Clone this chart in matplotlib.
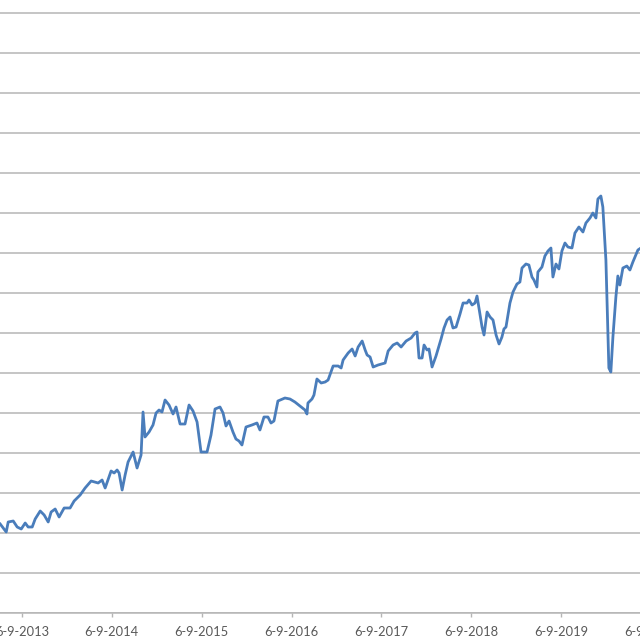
import matplotlib
matplotlib.use("Agg")
import matplotlib.pyplot as plt
import matplotlib.ticker as mticker
import matplotlib.dates as mdates
import pandas as pd

# time as decimal years (no axis labels visible)
years = [
    2013.438, 2013.505, 2013.527, 2013.583, 2013.627, 2013.672, 2013.716, 2013.749,
    2013.794, 2013.827, 2013.883, 2013.927, 2013.972, 2014.005, 2014.050, 2014.094,
    2014.150, 2014.216, 2014.261, 2014.328, 2014.383, 2014.450, 2014.528, 2014.572,
    2014.606, 2014.672, 2014.706, 2014.739, 2014.761, 2014.795, 2014.828, 2014.861,
    2014.917, 2014.961, 2015.006, 2015.028, 2015.050, 2015.095, 2015.139, 2015.173,
    2015.206, 2015.239, 2015.273, 2015.317, 2015.362, 2015.395, 2015.440, 2015.495,
    2015.540, 2015.584, 2015.629, 2015.673, 2015.740, 2015.784, 2015.829, 2015.884,
    2015.918, 2015.951, 2015.985, 2016.029, 2016.062, 2016.096, 2016.129, 2016.174,
    2016.240, 2016.296, 2016.329, 2016.374, 2016.418, 2016.452, 2016.485, 2016.529,
    2016.607, 2016.663, 2016.718, 2016.774, 2016.830, 2016.852, 2016.863, 2016.908,
    2016.930, 2016.963, 2017.008, 2017.052, 2017.085, 2017.141, 2017.197, 2017.230,
    2017.252, 2017.308, 2017.352, 2017.386, 2017.419, 2017.464, 2017.497, 2017.519,
    2017.552, 2017.586, 2017.641, 2017.719, 2017.753, 2017.808, 2017.853, 2017.897,
    2017.953, 2018.009, 2018.053, 2018.075, 2018.097, 2018.131, 2018.153, 2018.186,
    2018.208, 2018.242, 2018.286, 2018.342, 2018.375, 2018.409, 2018.442, 2018.475,
    2018.509, 2018.553, 2018.587, 2018.631, 2018.653, 2018.687, 2018.720, 2018.742,
    2018.765, 2018.798, 2018.820, 2018.854, 2018.887, 2018.920, 2018.954, 2018.987,
    2019.020, 2019.042, 2019.065, 2019.109, 2019.143, 2019.187, 2019.220, 2019.243,
    2019.287, 2019.320, 2019.354, 2019.376, 2019.409, 2019.420, 2019.465, 2019.498,
    2019.532, 2019.565, 2019.587, 2019.621, 2019.654, 2019.687, 2019.721, 2019.754,
    2019.799, 2019.832, 2019.876, 2019.921, 2019.954, 2019.999, 2020.032, 2020.066,
    2020.088, 2020.121, 2020.143, 2020.177, 2020.210, 2020.232, 2020.255, 2020.288,
    2020.310, 2020.332, 2020.366, 2020.410, 2020.444, 2020.477, 2020.510, 2020.533,
    2020.566,
]
values = [
    445, 405, 455, 460, 430, 420, 450, 430,
    430, 470, 510, 490, 455, 505, 520, 480,
    525, 525, 560, 590, 625, 660, 650, 665,
    625, 710, 700, 715, 700, 615, 690, 755,
    805, 725, 790, 1005, 880, 905, 940, 1000,
    1015, 1005, 1065, 1040, 995, 1030, 945, 945,
    1040, 1010, 955, 805, 805, 890, 1020, 1030,
    1000, 935, 960, 905, 870, 860, 840, 930,
    940, 950, 915, 980, 980, 950, 960, 1060,
    1075, 1070, 1055, 1035, 1015, 995, 1050, 1070,
    1090, 1170, 1150, 1155, 1165, 1235, 1235, 1225,
    1265, 1300, 1320, 1285, 1330, 1360, 1315, 1290,
    1280, 1230, 1240, 1250, 1310, 1340, 1350, 1330,
    1360, 1375, 1400, 1405, 1275, 1275, 1340, 1315,
    1320, 1230, 1285, 1370, 1425, 1465, 1480, 1425,
    1430, 1495, 1550, 1550, 1565, 1540, 1550, 1585,
    1520, 1430, 1390, 1505, 1480, 1465, 1390, 1345,
    1380, 1420, 1430, 1550, 1605, 1645, 1655, 1725,
    1745, 1740, 1680, 1665, 1630, 1705, 1730, 1785,
    1810, 1825, 1680, 1745, 1720, 1810, 1850, 1830,
    1825, 1900, 1930, 1905, 1950, 1975, 2000, 1975,
    2070, 2085, 2030, 1765, 1225, 1205, 1380, 1580,
    1685, 1640, 1725, 1735, 1715, 1755, 1790, 1815,
    1825,
]
tick_years = [2013, 2014, 2015, 2016, 2017, 2018, 2019, 2020]


def to_date(yf):
    y = int(yf)
    return pd.Timestamp(y, 1, 1) + pd.Timedelta(days=(yf - y) * 365.25)


dates = [to_date(v) for v in years]
ticks = [pd.Timestamp(y, 9, 6) for y in tick_years]

plt.rcParams["font.family"] = ["Lato", "DejaVu Sans"]
fig = plt.figure(figsize=(6.4, 6.4), dpi=100)
# plot area runs past the edges of the picture (cropped chart)
ax = fig.add_axes([-0.1, 1 - 613 / 640, 1.2, 1.0])
ax.plot(dates, values, color="#4a7dbb", lw=2.0, solid_joinstyle="round")

ax.set_xlim(to_date(2012.726), to_date(2021.266))
ax.set_ylim(0, 3200)
ax.set_yticks(range(0, 3201, 200))
ax.yaxis.grid(True, color="#b5b5b5", lw=1.1)
ax.tick_params(axis="y", left=False, labelleft=False)
ax.set_axisbelow(True)

ax.set_xticks(ticks)
ax.xaxis.set_major_formatter(
    mticker.FuncFormatter(lambda v, p: (lambda d: f"{d.day}-{d.month}-{d.year}")(mdates.num2date(v)))
)
ax.tick_params(axis="x", direction="out", length=3.2, width=1, color="#b5b5b5",
               labelsize=9.3, labelcolor="#595959", pad=6)

for s in ["left", "right", "top"]:
    ax.spines[s].set_visible(False)
ax.spines["bottom"].set_color("#b5b5b5")
ax.spines["bottom"].set_linewidth(1.1)

fig.savefig("out.png", dpi=100)
